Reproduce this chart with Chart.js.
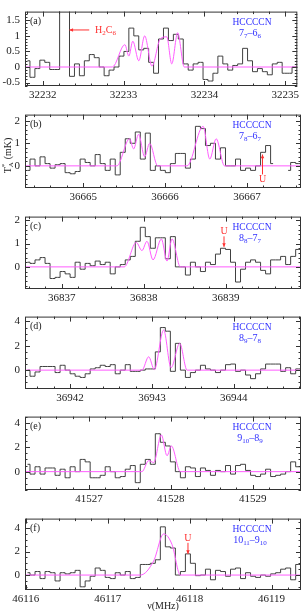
<!DOCTYPE html>
<html>
<head>
<meta charset="utf-8">
<script src="https://cdn.jsdelivr.net/npm/chart.js@4.4.0/dist/chart.umd.min.js"></script>
<style>
  body { margin: 0; background: #fff; width: 302px; height: 611px; overflow: hidden; position: relative; }
  canvas { position: absolute; left: 0; }
</style>
</head>
<body>
<canvas id="pa"></canvas>
<canvas id="pb"></canvas>
<canvas id="pc"></canvas>
<canvas id="pd"></canvas>
<canvas id="pe"></canvas>
<canvas id="pf"></canvas>
<script>
// channel width of the spectra (MHz)
const CH = 0.0612;

// (a) 7_7-6_6
const aRange = [32231.78, 32235.15];
const aXTicks = [32232, 32233, 32234, 32235];
const aYTicks = [-0.5, 0, 0.5, 1, 1.5];
const aVals = [0.2, -0.33, -0.05, 0.22, 0.15, -0.08, -0.08, 2.5, 2.5, -0.3,
  0.1, -0.28, 0.2, 0.4, 0.3, 0.0, -0.28, -0.1, 0.0, 0.35,
  0.5, 1.25, 1.0, 0.55, 0.6, 0.15, -0.2, 0.9, 1.25, 0.85,
  1.05, 0.9, 0.1, -0.1, 0.1, 0.15, -0.4, -0.45, -0.2, 0.35,
  0.1, -0.1, 0.05, 0.1, 0.6, 0.2, -0.15, -0.05, -0.15, -0.25,
  0.1, 0.15, -0.2, -0.2, 0.0, 0.0];
const aModelX = [32231.78, 32232.861, 32233.016, 32233.065, 32233.114, 32233.188, 32233.261, 32233.351, 32233.453, 32233.534, 32233.596, 32233.669, 32233.751, 32235.15];
const aModelY = [0, 0, 0.72, 0.35, 0.83, 0.2, 1.0, 0.03, 0.9, 0.97, 0.1, 1.1, 0, 0];

// (b) 7_8-6_7
const bRange = [36664.29, 36667.66];
const bXTicks = [36665, 36666, 36667];
const bYTicks = [0, 1, 2];
const bVals = [-0.2, 0.3, 0.0, 0.4, 0.1, -0.1, 0.05, 0.1, -0.3, -0.35,
  -0.25, 0.3, 0.15, 0.0, 0.5, 0.1, -0.2, 0.3, -0.4, 0.6,
  1.2, 1.0, 1.5, 0.3, 1.45, -0.2, 0.0, -0.2, -0.3, 0.1,
  0.55, 0.55, -0.1, 0.3, 1.75, 1.65, 0.9, 1.0, 0.3, 0.8,
  0.0, 0.0, 0.3, -0.2, -0.1, -0.2, 0.0, 0.6, 0.9, 0.1,
  null, null, -0.2, 0.15, 0.1, -0.1];
const bModelX = [36664.29, 36665.412, 36665.567, 36665.616, 36665.677, 36665.751, 36665.812, 36665.910, 36666.269, 36666.465, 36666.546, 36666.624, 36666.726, 36667.66];
const bModelY = [0, 0, 1.2, 0.75, 1.4, 0.4, 1.0, 0, 0, 1.75, 0.3, 1.2, 0, 0];

// (c) 8_8-7_7
const cRange = [36836.55, 36839.92];
const cXTicks = [36837, 36838, 36839];
const cYTicks = [0, 1, 2];
const cVals = [0.2, 0.15, 0.3, 0.4, 0.15, -0.5, -0.45, -0.2, -0.3, -0.45,
  0.2, -0.1, 0.15, 0.05, 0.25, 0.1, 0.2, -0.3, 0.0, 0.1,
  0.3, 0.45, 1.1, 1.7, 1.3, 0.8, 1.25, 1.25, 0.35, 1.3,
  0.0, 0.0, -0.35, 0.2, 0.0, -0.2, 0.2, 0.1, 0.55, 0.8,
  0.75, 0.2, -0.65, -0.1, 0.2, 0.3, 0.2, -0.15, -0.3, 0.3,
  0.3, 0.45, 0.1, 0.45, 0.75, 0.5];
const cModelX = [36836.55, 36837.762, 36837.909, 36837.978, 36838.039, 36838.113, 36838.215, 36838.284, 36838.345, 36838.447, 36839.92];
const cModelY = [0, 0, 1.05, 0.7, 1.1, 0.3, 1.2, 0.25, 1.2, 0, 0];

// (d) 8_9-7_8
const dRange = [36941.45, 36944.82];
const dXTicks = [36942, 36943, 36944];
const dYTicks = [0, 2, 4];
const dVals = [0.0, -0.5, -0.15, 0.3, 0.3, 0.3, -0.2, 0.4, 0.0, -0.3,
  -0.5, -0.6, -0.3, 0.1, 0.2, 0.4, 0.3, 0.45, -0.3, 0.0,
  0.45, -0.1, -0.1, 0.0, 0.1, 0.1, 1.5, 3.5, 3.2, -0.1,
  2.2, 0.0, -0.6, -0.2, 0.0, 0.4, 0.1, 0.0, -0.2, 0.0,
  0.45, 0.5, -0.1, 0.0, -0.4, -0.7, -0.3, 0.1, 0.5, 0.5,
  0.5, -0.1, 0.2, -0.3, 0.1, 0.1];
const dModelX = [36941.45, 36942.878, 36942.960, 36943.029, 36943.143, 36943.233, 36943.339, 36943.429, 36944.82];
const dModelY = [0, 0, 1.1, 0.05, 3.3, 0.2, 2.2, 0, 0];

// (e) 9_10-8_9
const eRange = [41526.22, 41529.59];
const eXTicks = [41527, 41528, 41529];
const eYTicks = [0, 2, 4];
const eVals = [0.6, -0.2, 0.4, -0.2, 0.3, 0.3, -0.3, 0.2, -0.5, 0.4,
  0.0, 1.0, 0.8, -0.5, -0.5, -0.3, 0.4, 0.0, -0.5, -0.4,
  0.2, 0.5, -0.9, 0.6, 1.0, 0.6, 3.1, 2.4, 2.1, 0.8,
  0.0, -0.5, 0.4, 0.3, -0.4, 0.3, 0.1, -0.3, 0.1, 0.0,
  0.5, -0.2, 0.5, 0.6, 0.1, -0.3, -0.4, -0.2, 0.2, -0.4,
  -0.3, -0.2, 0.0, 0.8, 0.4, -0.4];
const eModelX = [41526.22, 41527.648, 41527.730, 41527.791, 41527.885, 41527.954, 41528.007, 41528.117, 41529.59];
const eModelY = [0, 0, 0.9, 0.75, 3.0, 1.3, 2.1, 0, 0];

// (f) 10_11-9_10
const fRange = [46115.99, 46119.36];
const fXTicks = [46116, 46117, 46118, 46119];
const fYTicks = [0, 2, 4];
const fVals = [0.2, 0.0, 0.3, -0.3, 0.3, 0.2, -0.5, 0.2, 0.1, 0.2,
  0.4, -1.0, -0.5, -0.1, 0.6, 0.4, -0.2, -0.3, 0.2, 0.0,
  0.3, -0.3, -0.2, 0.9, 0.9, 1.0, 1.3, 4.1, 2.4, 2.3,
  0.0, 0.3, 1.8, 1.0, -0.05, 0.0, 0.5, -0.4, 0.4, 0.3,
  -0.1, 0.5, 0.6, -0.3, 0.2, -0.1, -0.2, 0.0, -0.1, 0.1,
  0.2, 0.5, 0.6, -0.4, 0.9, 1.5];
const fModelX = [46115.99, 46117.398, 46117.561, 46117.683, 46117.785, 46117.887, 46119.36];
const fModelY = [0, 0, 1.2, 3.5, 2.6, 0, 0];

const SERIF = "'Liberation Serif', 'DejaVu Serif', serif";
const MAGENTA = '#ff5cff';
const BLUE = '#3030ff';
const RED = '#ff3030';

const panels = [
  { id: 'pa', top: 0, h: 86, xr: aRange, yr: [-0.61, 1.78], xt: aXTicks, yt: aYTicks, yStep: 0.5, yMinor: 0.1,
    vals: aVals, mx: aModelX, my: aModelY, tag: '(a)',
    trans: [['7'], ['7', 's'], ['\u2013'], ['6'], ['6', 's']],
    notes: [{ from: [32232.575, 1.19], to: [32232.33, 1.19], at: [32232.61, 1.19], align: 'left',
              text: [['H'], ['2', 's'], ['C'], ['6', 's']] }] },
  { id: 'pb', top: 103, h: 85, xr: bRange, yr: [-0.98, 2.27], xt: bXTicks, yt: bYTicks, yStep: 1, yMinor: 0.2,
    vals: bVals, mx: bModelX, my: bModelY, tag: '(b)', ytitle: true,
    trans: [['7'], ['8', 's'], ['\u2013'], ['6'], ['7', 's']],
    notes: [{ from: [36667.19, -0.38], to: [36667.19, 0.5], at: [36667.19, -0.62], align: 'center', text: [['U']] }] },
  { id: 'pc', top: 205, h: 84, xr: cRange, yr: [-0.95, 2.16], xt: cXTicks, yt: cYTicks, yStep: 1, yMinor: 0.2,
    vals: cVals, mx: cModelX, my: cModelY, tag: '(c)',
    trans: [['8'], ['8', 's'], ['\u2013'], ['7'], ['7', 's']],
    notes: [{ from: [36838.98, 1.31], to: [36838.98, 0.86], at: [36838.98, 1.52], align: 'center', text: [['U']] }] },
  { id: 'pd', top: 305, h: 84, xr: dRange, yr: [-1.55, 4.4], xt: dXTicks, yt: dYTicks, yStep: 2, yMinor: 0.5,
    vals: dVals, mx: dModelX, my: dModelY, tag: '(d)',
    trans: [['8'], ['9', 's'], ['\u2013'], ['7'], ['8', 's']], notes: [] },
  { id: 'pe', top: 405, h: 85, xr: eRange, yr: [-1.5, 4.5], xt: eXTicks, yt: eYTicks, yStep: 2, yMinor: 0.5,
    vals: eVals, mx: eModelX, my: eModelY, tag: '(e)',
    trans: [['9'], ['10', 's'], ['\u2013'], ['8'], ['9', 's']], notes: [] },
  { id: 'pf', top: 507, h: 83, xr: fRange, yr: [-1.27, 4.8], xt: fXTicks, yt: fYTicks, yStep: 2, yMinor: 0.5,
    vals: fVals, mx: fModelX, my: fModelY, tag: '(f)', xtitle: true,
    trans: [['10'], ['11', 's'], ['\u2013'], ['9'], ['10', 's']],
    notes: [{ from: [46117.98, 2.74], to: [46117.98, 1.8], at: [46117.98, 3.15], align: 'center', text: [['U']] }] }
];

// text with subscripts, drawn piece by piece
function setFont(ctx, p, size) {
  ctx.font = (p[1] === 's' ? Math.round(size * 0.7) : size) + 'px ' + SERIF;
}
function partsWidth(ctx, parts, size) {
  let w = 0;
  parts.forEach(p => { setFont(ctx, p, size); w += ctx.measureText(p[0]).width; });
  return w;
}
function drawParts(ctx, parts, x, y, align, size) {
  let cx = x;
  if (align === 'center') cx = x - partsWidth(ctx, parts, size) / 2;
  ctx.textAlign = 'left';
  ctx.textBaseline = 'middle';
  parts.forEach(p => {
    setFont(ctx, p, size);
    ctx.fillText(p[0], cx, p[1] === 's' ? y + 3 : y);
    cx += ctx.measureText(p[0]).width;
  });
}
function arrow(ctx, x1, y1, x2, y2) {
  ctx.beginPath();
  ctx.moveTo(x1, y1);
  ctx.lineTo(x2, y2);
  ctx.stroke();
  const ang = Math.atan2(y2 - y1, x2 - x1);
  ctx.beginPath();
  ctx.moveTo(x2, y2);
  ctx.lineTo(x2 - 4 * Math.cos(ang - 0.45), y2 - 4 * Math.sin(ang - 0.45));
  ctx.lineTo(x2 - 4 * Math.cos(ang + 0.45), y2 - 4 * Math.sin(ang + 0.45));
  ctx.closePath();
  ctx.fill();
}

// frame, inward ticks and labels
const deco = {
  id: 'deco',
  afterDatasetsDraw(chart, args, p) {
    const { ctx, chartArea: { left, right, top, bottom }, scales: { x, y } } = chart;
    ctx.save();
    ctx.strokeStyle = '#333';
    ctx.lineWidth = 1;
    ctx.strokeRect(left + 0.5, top + 0.5, right - left - 1, bottom - top - 1);

    ctx.beginPath();
    for (let k = Math.ceil(x.min / 0.2); k * 0.2 <= x.max; k++) {
      const v = k * 0.2;
      const len = Math.abs(v - Math.round(v)) < 1e-6 ? 5 : 2.5;
      const px = Math.round(x.getPixelForValue(v)) + 0.5;
      ctx.moveTo(px, bottom); ctx.lineTo(px, bottom - len);
      ctx.moveTo(px, top); ctx.lineTo(px, top + len);
    }
    for (let k = Math.ceil(y.min / p.yMinor); k * p.yMinor <= y.max; k++) {
      const v = k * p.yMinor;
      const r = v / p.yStep;
      const len = Math.abs(r - Math.round(r)) < 1e-6 ? 5 : 2.5;
      const py = Math.round(y.getPixelForValue(v)) + 0.5;
      ctx.moveTo(left, py); ctx.lineTo(left + len, py);
      ctx.moveTo(right, py); ctx.lineTo(right - len, py);
    }
    ctx.stroke();

    ctx.fillStyle = '#222';
    drawParts(ctx, [[p.tag]], left + 5, top + 10, 'left', 10);

    ctx.fillStyle = BLUE;
    drawParts(ctx, [['HCCCCN']], 252, top + 11, 'center', 9.5);
    drawParts(ctx, p.trans, 250, top + 22, 'center', 10);

    ctx.fillStyle = RED;
    ctx.strokeStyle = RED;
    p.notes.forEach(n => {
      arrow(ctx, x.getPixelForValue(n.from[0]), y.getPixelForValue(n.from[1]),
        x.getPixelForValue(n.to[0]), y.getPixelForValue(n.to[1]));
      drawParts(ctx, n.text, x.getPixelForValue(n.at[0]) + (n.align === 'left' ? 3 : 0),
        y.getPixelForValue(n.at[1]), n.align, 10);
    });

    ctx.fillStyle = '#222';
    if (p.ytitle) {
      ctx.save();
      ctx.translate(8, (top + bottom) / 2 + 2);
      ctx.rotate(-Math.PI / 2);
      ctx.textBaseline = 'middle';
      ctx.font = '10px ' + SERIF;
      ctx.fillText('T', -20, 0);
      ctx.font = '7px ' + SERIF;
      ctx.fillText('*', -14, -4);
      ctx.fillText('A', -14, 3);
      ctx.font = '10px ' + SERIF;
      ctx.fillText('(mK)', -6, 0);
      ctx.restore();
    }
    if (p.xtitle) {
      ctx.font = '10px ' + SERIF;
      ctx.textAlign = 'center';
      ctx.textBaseline = 'middle';
      ctx.fillText('\u03bd(MHz)', 163, bottom + 16);
    }
    ctx.restore();
  }
};

panels.forEach(pn => {
  const cv = document.getElementById(pn.id);
  const extra = pn.xtitle ? 611 - pn.top - pn.h : 16;
  cv.width = 302;
  cv.height = pn.h + extra;
  cv.style.top = pn.top + 'px';

  const spec = pn.vals.map((v, i) => ({ x: pn.xr[0] + (i + 0.5) * CH, y: v }));
  const model = pn.mx.map((x, i) => ({ x: x, y: pn.my[i] }));

  new Chart(cv, {
    type: 'line',
    data: {
      datasets: [
        { data: model, borderColor: MAGENTA, borderWidth: 1, pointRadius: 0,
          cubicInterpolationMode: 'monotone', fill: false },
        { data: spec, borderColor: '#404040', borderWidth: 1, pointRadius: 0,
          stepped: 'middle', spanGaps: false, fill: false }
      ]
    },
    options: {
      responsive: false,
      animation: false,
      events: [],
      layout: { padding: { left: 0, right: 1, top: 0, bottom: 0 } },
      plugins: {
        legend: { display: false },
        tooltip: { enabled: false },
        deco: { yStep: pn.yStep, yMinor: pn.yMinor, tag: pn.tag, trans: pn.trans,
                notes: pn.notes, ytitle: pn.ytitle, xtitle: pn.xtitle }
      },
      scales: {
        x: {
          type: 'linear', min: pn.xr[0], max: pn.xr[1],
          grid: { display: false, drawTicks: false },
          border: { display: false },
          ticks: { autoSkip: false, maxRotation: 0, padding: 3, color: '#222',
                   font: { family: SERIF, size: 11 }, callback: v => String(v) },
          afterBuildTicks: s => { s.ticks = pn.xt.map(v => ({ value: v })); },
          afterFit: s => { s.height = extra; }
        },
        y: {
          min: pn.yr[0], max: pn.yr[1],
          grid: { display: false, drawTicks: false },
          border: { display: false },
          ticks: { autoSkip: false, padding: 5, color: '#222', font: { family: SERIF, size: 11 },
                   callback: v => String(v) },
          afterBuildTicks: s => { s.ticks = pn.yt.map(v => ({ value: v })); },
          afterFit: s => { s.width = 25; }
        }
      }
    },
    plugins: [deco]
  });
});
</script>
</body>
</html>
